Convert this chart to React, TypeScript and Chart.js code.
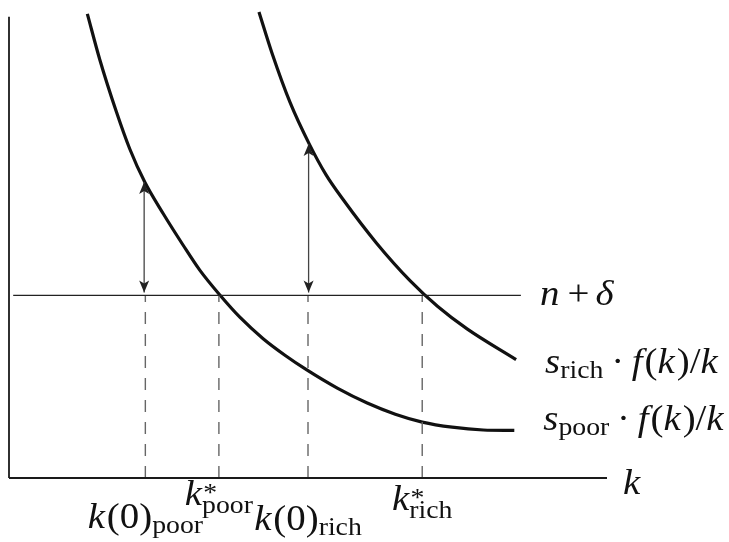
import React, { useEffect, useRef } from "react";
import { Chart, registerables } from "chart.js";

Chart.register(...registerables);

// ---------- data (k on the horizontal axis, growth-rate on the vertical) ----------
const poorK = [1.31, 1.52, 1.79, 2.02, 2.27, 2.58, 2.91, 3.19, 3.53, 3.86, 4.25, 4.62, 4.98, 5.49, 5.99, 6.46, 6.91, 7.41, 7.93, 8.45];
const poorY = [9.96, 8.97, 7.88, 7.06, 6.35, 5.67, 5.0, 4.46, 3.92, 3.45, 2.99, 2.63, 2.32, 1.93, 1.61, 1.37, 1.2, 1.09, 1.03, 1.02];
const richK = [4.18, 4.4, 4.7, 5.02, 5.3, 5.59, 6.14, 6.71, 7.17, 7.66, 8.48];
const richY = [10.0, 9.11, 8.06, 7.17, 6.51, 5.97, 5.05, 4.23, 3.68, 3.2, 2.54];
const nDelta = 3.92; // level of the n + δ line
const nDeltaK = [0.07, 8.56];
const xAxisEnd = 10;
const yAxisTop = 9.9;
const markerK = [2.28, 3.51, 5.0, 6.91];
const markerMain = ["k(0)", "k", "k(0)", "k"];
const markerSup = ["", "*", "", "*"];
const markerSub = ["poor", "poor", "rich", "rich"];
const arrowK = [2.26, 5.01];
const arrowBottomY = [3.98, 3.98];
const arrowTopY = [6.35, 7.17];
const curveMain = ["s", "s"]; // rich, poor
const curveSub = ["rich", "poor"];
const curveTail = "·f(k)/k";
const lineLabel = "n+δ";
const axisLabel = "k";

// ---------- text rendering helpers ----------
const M = 35;
const S = 25;
const HS = 1.11;
const FAMILY = '"Liberation Serif", "Times New Roman", serif';
const fnt = (size: number, it: boolean) => `${it ? "italic " : ""}${size}px ${FAMILY}`;
const isIt = (ch: string) => /[A-Za-z\u03B1-\u03C9]/.test(ch);
const isOp = (ch: string) => ch === "+" || ch === "·";

type Seg = { text: string; sub?: string; sup?: string };
type Glyph = { ch: string; x: number; dy: number; size: number; it: boolean };

function layoutMath(ctx: CanvasRenderingContext2D, segs: Seg[]) {
  let x = 0;
  const glyphs: Glyph[] = [];
  for (const seg of segs) {
    const chars = Array.from(seg.text);
    chars.forEach((ch, i) => {
      const it = isIt(ch);
      const gap = ch === "+" ? 0.16 * M : 0.2 * M;
      if (isOp(ch)) x += gap;
      ctx.font = fnt(M, it);
      glyphs.push({ ch, x, dy: 0, size: M, it });
      x += ctx.measureText(ch).width;
      if (isOp(ch)) x += gap;
      const next = chars[i + 1];
      if (it && next !== undefined && !isIt(next)) x += 0.05 * M;
    });
    if (seg.sub || seg.sup) {
      ctx.font = fnt(S, false);
      let w = 0;
      if (seg.sup) {
        glyphs.push({ ch: seg.sup, x: x + 1, dy: -4, size: S, it: false });
        w = Math.max(w, ctx.measureText(seg.sup).width + 1);
      }
      if (seg.sub) {
        glyphs.push({ ch: seg.sub, x, dy: seg.sup ? 7.5 : 5, size: S, it: false });
        w = Math.max(w, ctx.measureText(seg.sub).width);
      }
      x += w;
    }
  }
  return { glyphs, width: x * HS };
}

function drawMath(
  ctx: CanvasRenderingContext2D,
  segs: Seg[],
  x: number,
  baseline: number,
  align: "left" | "center"
) {
  const { glyphs, width } = layoutMath(ctx, segs);
  const x0 = align === "center" ? x - width / 2 : x;
  ctx.save();
  ctx.translate(x0, baseline);
  ctx.scale(HS, 1);
  ctx.textAlign = "left";
  ctx.textBaseline = "alphabetic";
  for (const g of glyphs) {
    ctx.font = fnt(g.size, g.it);
    ctx.fillText(g.ch, g.x, g.dy);
  }
  ctx.restore();
}

function arrowHead(ctx: CanvasRenderingContext2D, x: number, tipY: number, dir: number) {
  // dir = -1: pointing up, +1: pointing down
  const back = tipY - dir * 12;
  const notch = tipY - dir * 9;
  ctx.beginPath();
  ctx.moveTo(x, tipY);
  ctx.lineTo(x + 5, back);
  ctx.lineTo(x, notch);
  ctx.lineTo(x - 5, back);
  ctx.closePath();
  ctx.fill();
}

const annotations = {
  id: "annotations",
  afterDatasetsDraw(chart: any) {
    const ctx: CanvasRenderingContext2D = chart.ctx;
    const xs = chart.scales.x;
    const ys = chart.scales.y;
    ctx.save();
    ctx.fillStyle = "#222";
    arrowK.forEach((k, i) => {
      const px = xs.getPixelForValue(k);
      arrowHead(ctx, px, ys.getPixelForValue(arrowTopY[i]), -1);
      arrowHead(ctx, px, ys.getPixelForValue(arrowBottomY[i]), 1);
    });

    ctx.fillStyle = "#111";
    // n + δ
    drawMath(
      ctx,
      [{ text: lineLabel }],
      xs.getPixelForValue(nDeltaK[1]) + 19,
      ys.getPixelForValue(nDelta) + 10,
      "left"
    );
    // curve labels
    const ends = [
      { k: richK[richK.length - 1], y: richY[richY.length - 1], dy: 13.5 },
      { k: poorK[poorK.length - 1], y: poorY[poorY.length - 1], dy: 0 },
    ];
    ends.forEach((e, i) => {
      drawMath(
        ctx,
        [{ text: curveMain[i], sub: curveSub[i] }, { text: curveTail }],
        xs.getPixelForValue(e.k) + 29,
        ys.getPixelForValue(e.y) + e.dy,
        "left"
      );
    });
    // axis label
    drawMath(ctx, [{ text: axisLabel }], xs.getPixelForValue(xAxisEnd) + 16, ys.getPixelForValue(0) + 16, "left");
    // marker labels under the axis
    const drops = [50, 27, 52, 32];
    markerK.forEach((k, i) => {
      drawMath(
        ctx,
        [{ text: markerMain[i], sub: markerSub[i], sup: markerSup[i] || undefined }],
        xs.getPixelForValue(k),
        ys.getPixelForValue(0) + drops[i],
        "center"
      );
    });
    ctx.restore();
  },
};

const seg = (data: { x: number; y: number }[], extra: any = {}) => ({
  data,
  showLine: true,
  pointRadius: 0,
  pointHoverRadius: 0,
  clip: false,
  fill: false,
  borderColor: "#111",
  backgroundColor: "#111",
  borderWidth: 1,
  ...extra,
});

export default function App() {
  const ref = useRef<HTMLCanvasElement | null>(null);
  useEffect(() => {
    if (!ref.current) return;
    const datasets: any[] = [
      seg([{ x: 0, y: 0 }, { x: xAxisEnd, y: 0 }], { borderWidth: 1.8, borderColor: "#1a1a1a" }),
      seg([{ x: 0, y: 0 }, { x: 0, y: yAxisTop }], { borderWidth: 1.8, borderColor: "#1a1a1a" }),
      seg([{ x: nDeltaK[0], y: nDelta }, { x: nDeltaK[1], y: nDelta }], { borderWidth: 1.3, borderColor: "#222" }),
      ...markerK.map((k) =>
        seg([{ x: k, y: 0 }, { x: k, y: nDelta }], { borderDash: [12, 10], borderColor: "#666", borderWidth: 1.4 })
      ),
      ...arrowK.map((k, i) =>
        seg([{ x: k, y: arrowBottomY[i] }, { x: k, y: arrowTopY[i] }], { borderColor: "#444", borderWidth: 1.3 })
      ),
      seg(poorK.map((k, i) => ({ x: k, y: poorY[i] })), { borderWidth: 3.2, cubicInterpolationMode: "monotone" }),
      seg(richK.map((k, i) => ({ x: k, y: richY[i] })), { borderWidth: 3.2, cubicInterpolationMode: "monotone" }),
    ];
    const chart = new Chart(ref.current, {
      type: "scatter",
      data: { datasets },
      options: {
        animation: false,
        responsive: false,
        devicePixelRatio: 1,
        events: [],
        layout: { padding: { left: 9, right: 122, top: 12, bottom: 64 } },
        plugins: { legend: { display: false }, tooltip: { enabled: false } },
        scales: {
          x: { type: "linear", min: 0, max: xAxisEnd, display: false },
          y: { type: "linear", min: 0, max: 10, display: false },
        },
      },
      plugins: [annotations],
    });
    return () => chart.destroy();
  }, []);
  return (
    <div style={{ position: "absolute", left: 0, top: 0, width: 729, height: 542, background: "#fff" }}>
      <canvas ref={ref} width={729} height={542} style={{ width: 729, height: 542, display: "block" }} />
    </div>
  );
}
